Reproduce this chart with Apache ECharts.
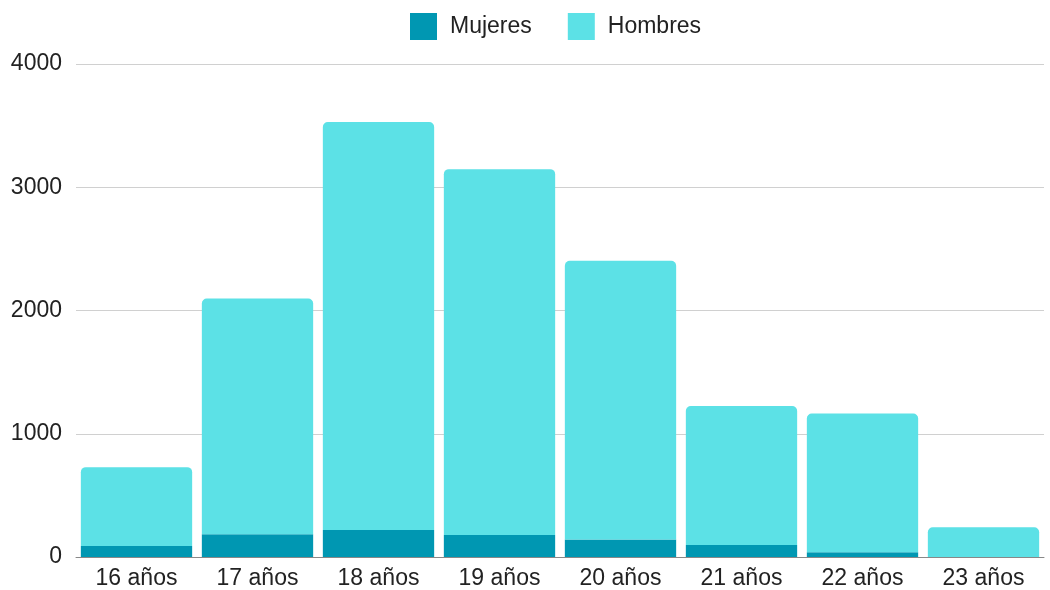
<!DOCTYPE html>
<html>
<head>
<meta charset="utf-8">
<script src="https://cdn.jsdelivr.net/npm/echarts@6/dist/echarts.min.js"></script>
<style>
  html, body { margin: 0; padding: 0; background: #fff; }
  #main { width: 1050px; height: 590px; }
</style>
</head>
<body>
<div id="main"></div>
<script>
// categorias y valores
var edades = ['16 años', '17 años', '18 años', '19 años', '20 años', '21 años', '22 años', '23 años'];
var mujeres = [89, 184, 219, 178, 143, 97, 38, 0];
var hombres = [640, 1914, 3311, 2969, 2260, 1128, 1127, 241];

var oChart = echarts.init(document.getElementById('main'));

var opt = {
    textStyle: {
        fontFamily: "'Liberation Sans', Arial, sans-serif"
    },
    legend: {
        top: 8,
        left: 405,
        icon: 'rect',
        itemWidth: 27,
        itemHeight: 27,
        itemGap: 36,
        textStyle: {
            fontFamily: "'Liberation Sans', Arial, sans-serif",
            fontSize: 23,
            color: '#222',
            padding: [0, 0, 0, 8]
        },
        data: ['Mujeres', 'Hombres']
    },
    grid: {
        left: 76,
        right: 6,
        top: 64,
        bottom: 33
    },
    xAxis: {
        type: 'category',
        data: edades,
        axisTick: { show: false },
        axisLine: { lineStyle: { color: '#888', width: 1 } },
        axisLabel: {
            fontFamily: "'Liberation Sans', Arial, sans-serif",
            fontSize: 23,
            color: '#222',
            margin: 10
        }
    },
    yAxis: {
        type: 'value',
        min: 0,
        max: 4000,
        interval: 1000,
        axisLabel: {
            fontFamily: "'Liberation Sans', Arial, sans-serif",
            fontSize: 23,
            color: '#222',
            margin: 14,
            formatter: function (v) { return String(v); }
        },
        splitLine: { lineStyle: { color: '#d0d0d0', width: 1 } }
    },
    series: [
        {
            name: 'Mujeres',
            type: 'bar',
            stack: 'total',
            barCategoryGap: '8%',
            itemStyle: { color: '#0097b2' },
            data: mujeres
        },
        {
            name: 'Hombres',
            type: 'bar',
            stack: 'total',
            barCategoryGap: '8%',
            itemStyle: { color: '#5ce1e6', borderRadius: [5, 5, 0, 0] },
            data: hombres
        }
    ]
};

oChart.setOption(opt);
</script>
</body>
</html>
